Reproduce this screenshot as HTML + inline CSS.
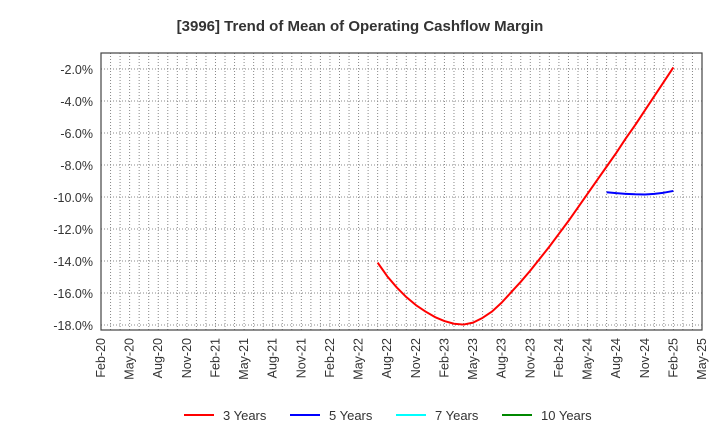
<!DOCTYPE html>
<html><head><meta charset="utf-8"><style>
body{margin:0;background:#fff;font-family:"Liberation Sans",sans-serif}
</style></head><body>
<svg id="chart" width="720" height="440" xmlns="http://www.w3.org/2000/svg">
<text x="360" y="31" text-anchor="middle" font-size="15" font-weight="bold" fill="#333">[3996]  Trend of Mean of Operating Cashflow Margin</text>
<g id="grid"></g><g id="axes"></g><g id="series"></g>
<g>
<g><line x1="184" y1="415" x2="214" y2="415" stroke="#f00" stroke-width="2"/><text x="223" y="420" font-size="13" fill="#333">3 Years</text></g>
<g><line x1="290" y1="415" x2="320" y2="415" stroke="#00f" stroke-width="2"/><text x="329" y="420" font-size="13" fill="#333">5 Years</text></g>
<g><line x1="396" y1="415" x2="426" y2="415" stroke="#0ff" stroke-width="2"/><text x="435" y="420" font-size="13" fill="#333">7 Years</text></g>
<g><line x1="502" y1="415" x2="532" y2="415" stroke="#080" stroke-width="2"/><text x="541" y="420" font-size="13" fill="#333">10 Years</text></g>
</g>
</svg>
<script>
const xTickLabels=["Feb-20","May-20","Aug-20","Nov-20","Feb-21","May-21","Aug-21","Nov-21","Feb-22","May-22","Aug-22","Nov-22","Feb-23","May-23","Aug-23","Nov-23","Feb-24","May-24","Aug-24","Nov-24","Feb-25","May-25"];
const yTicks=[-2,-4,-6,-8,-10,-12,-14,-16,-18];
// months since Feb-20
const red3Months=[29,30,31,32,33,34,35,36,37,38,39,40,41,42,43,44,45,46,47,48,49,50,51,52,53,54,55,56,57,58,59,60];
const red3Values=[-14.1,-14.95,-15.65,-16.25,-16.75,-17.15,-17.5,-17.75,-17.92,-17.97,-17.85,-17.55,-17.15,-16.6,-15.95,-15.3,-14.6,-13.85,-13.1,-12.3,-11.5,-10.65,-9.8,-8.95,-8.1,-7.25,-6.35,-5.5,-4.6,-3.7,-2.8,-1.9];
const blue5Months=[53,54,55,56,57,58,59,60];
const blue5Values=[-9.7,-9.76,-9.8,-9.83,-9.84,-9.8,-9.73,-9.62];
const L=101,R=702,T=53,B=330,yMax=-1.0,yMin=-18.31,mMax=63;
const X=m=>L+(R-L)*m/mMax;
const Y=v=>T+(B-T)*(yMax-v)/(yMax-yMin);
const NS="http://www.w3.org/2000/svg";
function mk(tag,attrs,parent,txt){const e=document.createElementNS(NS,tag);for(const k in attrs)e.setAttribute(k,attrs[k]);if(txt!==undefined)e.textContent=txt;parent.appendChild(e);return e;}
const grid=document.getElementById('grid'),axes=document.getElementById('axes'),series=document.getElementById('series');
for(let m=1;m<mMax;m++){const l=mk('line',{x1:X(m),x2:X(m),y1:T,y2:B,stroke:'#888','stroke-dasharray':'1,2','stroke-width':1},grid);

}
yTicks.forEach(v=>{const l=mk('line',{x1:L,x2:R,y1:Y(v),y2:Y(v),stroke:'#888','stroke-dasharray':'1,2'},grid);


const t=mk('text',{x:L-8,y:Y(v)+5,'text-anchor':'end','font-size':12.5,fill:'#333'},axes,v.toFixed(1)+'%');

});
const frame=mk('rect',{x:L,y:T,width:R-L,height:B-T,fill:'none',stroke:'#444','stroke-width':1.2},axes);


xTickLabels.forEach((s,i)=>{const x=X(i*3)+4;const t=mk('text',{x:x,y:B+8,'text-anchor':'end','font-size':12.5,fill:'#333',transform:`rotate(-90 ${x} ${B+8})`},axes,s);

});
function line(ms,vs,color,name){const p=mk('polyline',{points:ms.map((m,i)=>X(m)+','+Y(vs[i])).join(' '),fill:'none',stroke:color,'stroke-width':2,'stroke-linejoin':'round'},series);

}
line(red3Months,red3Values,'#f00','line-3-years');
line(blue5Months,blue5Values,'#00f','line-5-years');
</script>
</body></html>
